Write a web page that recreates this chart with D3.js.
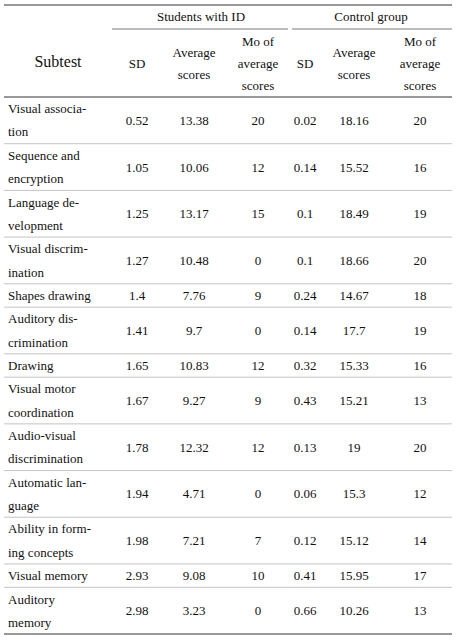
<!DOCTYPE html>
<html><head><meta charset="utf-8">
<script src="https://cdn.jsdelivr.net/npm/d3@7"></script>
<style>body{margin:0;background:#fff}text{font-family:"Times New Roman","Liberation Serif","DejaVu Serif",serif;font-size:13px;fill:#111}</style>
</head><body><div id="chart"></div>
<script>
// subtests as printed (with line breaks)
var subtests = [
  ["Visual associa-", "tion"], ["Sequence and", "encryption"], ["Language de-", "velopment"],
  ["Visual discrim-", "ination"], ["Shapes drawing"], ["Auditory dis-", "crimination"],
  ["Drawing"], ["Visual motor", "coordination"], ["Audio-visual", "discrimination"],
  ["Automatic lan-", "guage"], ["Ability in form-", "ing concepts"], ["Visual memory"],
  ["Auditory", "memory"]
];
var idSD = ["0.52","1.05","1.25","1.27","1.4","1.41","1.65","1.67","1.78","1.94","1.98","2.93","2.98"];
var idAvg = ["13.38","10.06","13.17","10.48","7.76","9.7","10.83","9.27","12.32","4.71","7.21","9.08","3.23"];
var idMo = ["20","12","15","0","9","0","12","9","12","0","7","10","0"];
var ctSD = ["0.02","0.14","0.1","0.1","0.24","0.14","0.32","0.43","0.13","0.06","0.12","0.41","0.66"];
var ctAvg = ["18.16","15.52","18.49","18.66","14.67","17.7","15.33","15.21","19","15.3","15.12","15.95","10.26"];
var ctMo = ["20","16","19","20","18","19","16","13","20","12","14","17","13"];
var groups = ["Students with ID", "Control group"];
var subHeads = [["SD"], ["Average", "scores"], ["Mo of", "average", "scores"]];

var W = 460, H = 641, L = 4, R = 452;
var colEdges = [4, 112, 162, 226, 290, 320, 388, 452];
var headTop = 5, headMid = 29, headBot = 97, bottom = 634;
var LINE = 23.3;

var svg = d3.select("#chart").append("svg").attr("width", W).attr("height", H)
  .attr("font-family", "'Times New Roman','Liberation Serif','DejaVu Serif',serif");

// row positions
var units = subtests.map(function(s) { return s.length; });
var total = d3.sum(units);
var y = d3.scaleLinear().domain([0, total]).range([headBot, bottom]);
var starts = d3.cumsum([0].concat(units));

function hline(x1, x2, yy, c, w) {
  svg.append("line").attr("x1", x1).attr("x2", x2).attr("y1", yy).attr("y2", yy)
    .attr("stroke", c).attr("stroke-width", w);
}
hline(L, R, headTop, "#333", 1);
hline(colEdges[1], colEdges[4] - 2, headMid, "#555", 0.8);
hline(colEdges[4] + 2, R, headMid, "#555", 0.8);
hline(L, R, headBot, "#333", 1);
hline(L, R, bottom, "#333", 1);

function cx(i) { return (colEdges[i] + colEdges[i + 1]) / 2; }

svg.append("text").attr("x", cx(0)).attr("y", 67).attr("text-anchor", "middle")
  .style("font-size", "16px").text("Subtest");
groups.forEach(function(g, gi) {
  svg.append("text").attr("x", (colEdges[1 + gi * 3] + colEdges[4 + gi * 3]) / 2).attr("y", 21)
    .attr("text-anchor", "middle").text(g);
  subHeads.forEach(function(h, hi) {
    var c = 1 + gi * 3 + hi;
    h.forEach(function(t, k) {
      svg.append("text").attr("x", cx(c)).attr("y", 68 + (k - (h.length - 1) / 2) * 22)
        .attr("text-anchor", "middle").text(t);
    });
  });
});

var cols = [idSD, idAvg, idMo, ctSD, ctAvg, ctMo];
var rows = svg.selectAll("g.row").data(subtests).enter().append("g").attr("class", "row");
rows.each(function(d, i) {
  var g = d3.select(this);
  var top = y(starts[i]), bot = y(starts[i + 1]), mid = (top + bot) / 2;
  if (i > 0) hline(L, R, top, "#aaa", 0.7);
  d.forEach(function(t, k) {
    g.append("text").attr("x", 8).attr("y", mid + 4.5 + (k - (d.length - 1) / 2) * LINE).text(t);
  });
  cols.forEach(function(c, ci) {
    g.append("text").attr("x", cx(ci + 1)).attr("y", mid + 4.5).attr("text-anchor", "middle").text(c[i]);
  });
});
</script></body></html>
